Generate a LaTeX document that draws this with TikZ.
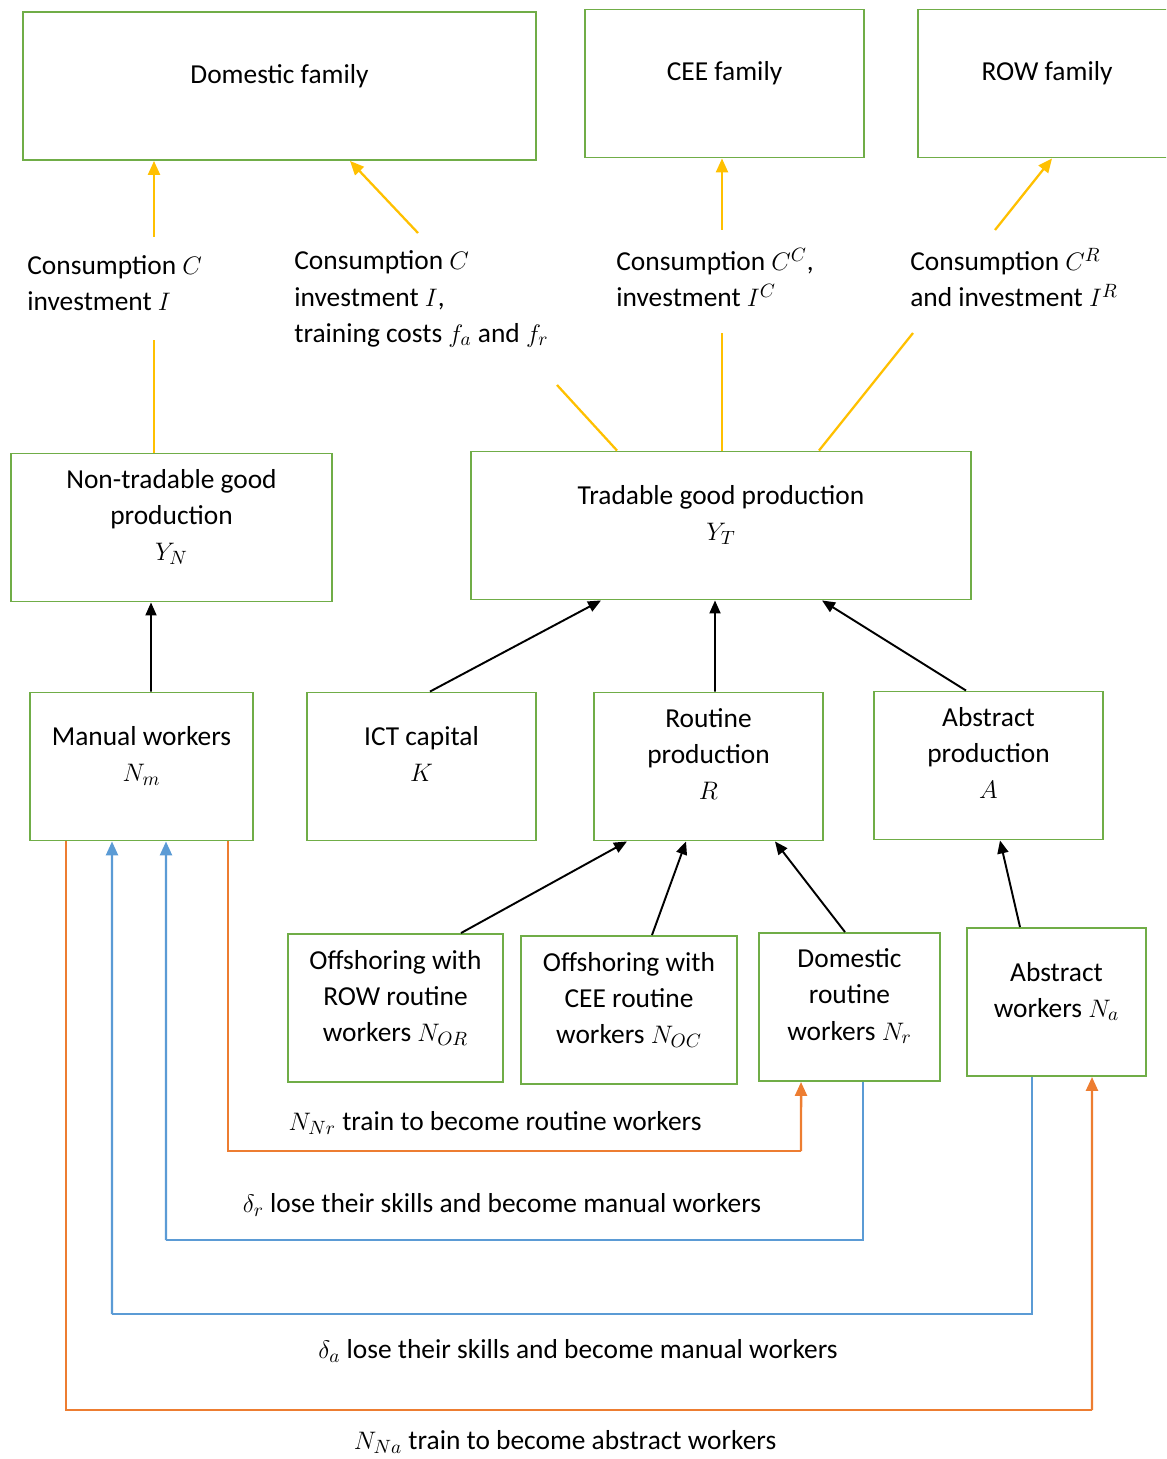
\documentclass[tikz,border=0pt]{standalone}
\usepackage{fontspec}
\usepackage{amsmath}
\setmainfont{Carlito}
\usetikzlibrary{arrows.meta}

\definecolor{boxgreen}{RGB}{112,173,71}
\definecolor{ygold}{RGB}{255,192,0}
\definecolor{oline}{RGB}{237,125,49}
\definecolor{bline}{RGB}{91,155,213}

\tikzset{
	box/.style={draw=boxgreen, line width=1.1pt, align=center, inner sep=0pt, minimum height=2.96cm,
		execute at end node={\rule[-0.5cm]{0pt}{0pt}}},
	lbl/.style={inner sep=0pt, align=left, anchor=west},
	flowlbl/.style={inner sep=0pt},
	yline/.style={draw=ygold, line width=1.3pt, -{Triangle[length=0.28cm,width=0.24cm]}},
	blk/.style={line width=1.1pt, -{Triangle[length=0.26cm,width=0.22cm]}},
	othin/.style={draw=oline, line width=0.6pt},
	othick/.style={draw=oline, line width=1.4pt, -{Triangle[length=0.28cm,width=0.24cm]}},
	bthin/.style={draw=bline, line width=0.6pt},
	bthick/.style={draw=bline, line width=1.4pt, -{Triangle[length=0.28cm,width=0.24cm]}}
}

\begin{document}
\begin{tikzpicture}[x=0.02cm, y=-0.02cm, font=\fontsize{15.6}{20.5}\selectfont]
	\useasboundingbox (0,0) rectangle (1166,1459);
	\clip (0,0) rectangle (1166,1459);

	% families
	\node[box, minimum width=10.26cm] (domfam) at (279.5,86) {Domestic family};
	\node[box, minimum width=5.58cm] (ceefam) at (724.5,83.5) {CEE family};
	\node[box, minimum width=5.16cm] (rowfam) at (1047,83.5) {ROW family};

	% production
	\node[box, minimum width=6.42cm] (ntrad) at (171.5,527.5) {Non-tradable good\\production\\$Y_N$};
	\node[box, minimum width=10cm] (trad) at (721,525.5) {Tradable good production\\$Y_T$};

	\node[box, minimum width=4.46cm] (manual) at (141.5,766.5) {Manual workers\\$N_m$};
	\node[box, minimum width=4.58cm] (ict) at (421.5,766.5) {ICT capital\\$K$};
	\node[box, minimum width=4.58cm] (rprod) at (708.5,766.5) {Routine\\production\\$R$};
	\node[box, minimum width=4.58cm] (aprod) at (988.5,765.5) {Abstract\\production\\$A$};

	\node[box, minimum width=4.3cm] (offrow) at (395.5,1008) {Offshoring with\\ROW routine\\workers $N_{OR}$};
	\node[box, minimum width=4.32cm] (offcee) at (629,1010) {Offshoring with\\CEE routine\\workers $N_{OC}$};
	\node[box, minimum width=3.62cm] (domr) at (849.5,1007) {Domestic\\routine\\workers $N_r$};
	\node[box, minimum width=3.58cm] (absw) at (1056.5,1002) {Abstract\\workers $N_a$};

	% flow labels
	\node[lbl] (lcons1) at (27,283.5) {Consumption $C$\\investment $I$};
	\node[lbl] (lcons2) at (294,299) {Consumption $C$\\investment $I$,\\training costs $f_a$ and $f_r$};
	\node[lbl] (lcons3) at (616,277.5) {Consumption $C^C$,\\investment $I^C$};
	\node[lbl] (lcons4) at (910,277.5) {Consumption $C^R$\\and investment $I^R$};

	\node[flowlbl] (ltrainr) at (495,1123) {$N_{Nr}$ train to become routine workers};
	\node[flowlbl] (llossr) at (502,1205) {$\delta_r$ lose their skills and become manual workers};
	\node[flowlbl] (llossa) at (578,1351) {$\delta_a$ lose their skills and become manual workers};
	\node[flowlbl] (ltraina) at (565,1442) {$N_{Na}$ train to become abstract workers};

	\coordinate (c1) at (154,340);
	\coordinate (c2) at (154,237);
	\coordinate (c3) at (557,385);
	\coordinate (c4) at (418,233);
	\coordinate (c5) at (722,333);
	\coordinate (c6) at (722,230);
	\coordinate (c7) at (913,333);
	\coordinate (c8) at (995,230);
	\coordinate (o1) at (801,1151);
	\coordinate (b1) at (166,1240);
	\coordinate (b2) at (112,1314);
	\coordinate (o2) at (1092,1410);

	% consumption flows
	\draw[yline, -] (ntrad.north -| c1) -- (c1);
	\draw[yline] (c2) -- (domfam.south -| c2);
	\draw[yline, -] ([xshift=-2.08cm]trad.north) -- (c3);
	\draw[yline] (c4) -- ([xshift=1.41cm]domfam.south);
	\draw[yline, -] (trad.north -| c5) -- (c5);
	\draw[yline] (c6) -- (ceefam.south -| c6);
	\draw[yline, -] ([xshift=1.96cm]trad.north) -- (c7);
	\draw[yline] (c8) -- ([xshift=0.1cm]rowfam.south);

	% inputs
	\path[blk] ([xshift=0.19cm]manual.north) edge ([xshift=-0.41cm]ntrad.south);
	\path[blk] ([xshift=0.17cm]ict.north) edge ([xshift=-2.4cm]trad.south);
	\path[blk] ([xshift=0.13cm]rprod.north) edge ([xshift=-0.12cm]trad.south);
	\path[blk] ([xshift=-0.45cm]aprod.north) edge ([xshift=2.02cm]trad.south);
	\path[blk] ([xshift=1.31cm]offrow.north) edge ([xshift=-1.63cm]rprod.south);
	\path[blk] ([xshift=0.46cm]offcee.north) edge ([xshift=-0.45cm]rprod.south);
	\path[blk] ([xshift=-0.09cm]domr.north) edge ([xshift=1.33cm]rprod.south);
	\path[blk] ([xshift=-0.73cm]absw.north) edge ([xshift=0.23cm]aprod.south);

	% training and skill loss
	\draw[othin] ([xshift=1.73cm]manual.south) |- (o1);
	\draw[othick] (o1) -- ([xshift=-0.97cm]domr.south);
	\draw[bthin] ([xshift=0.27cm]domr.south) |- (b1);
	\draw[bthick] (b1) -- ([xshift=0.49cm]manual.south);
	\draw[bthin] ([xshift=-0.49cm]absw.south) |- (b2);
	\draw[bthick] (b2) -- ([xshift=-0.59cm]manual.south);
	\draw[othin] ([xshift=-1.51cm]manual.south) |- (o2);
	\draw[othick] (o2) -- ([xshift=0.71cm]absw.south);
\end{tikzpicture}
\end{document}
